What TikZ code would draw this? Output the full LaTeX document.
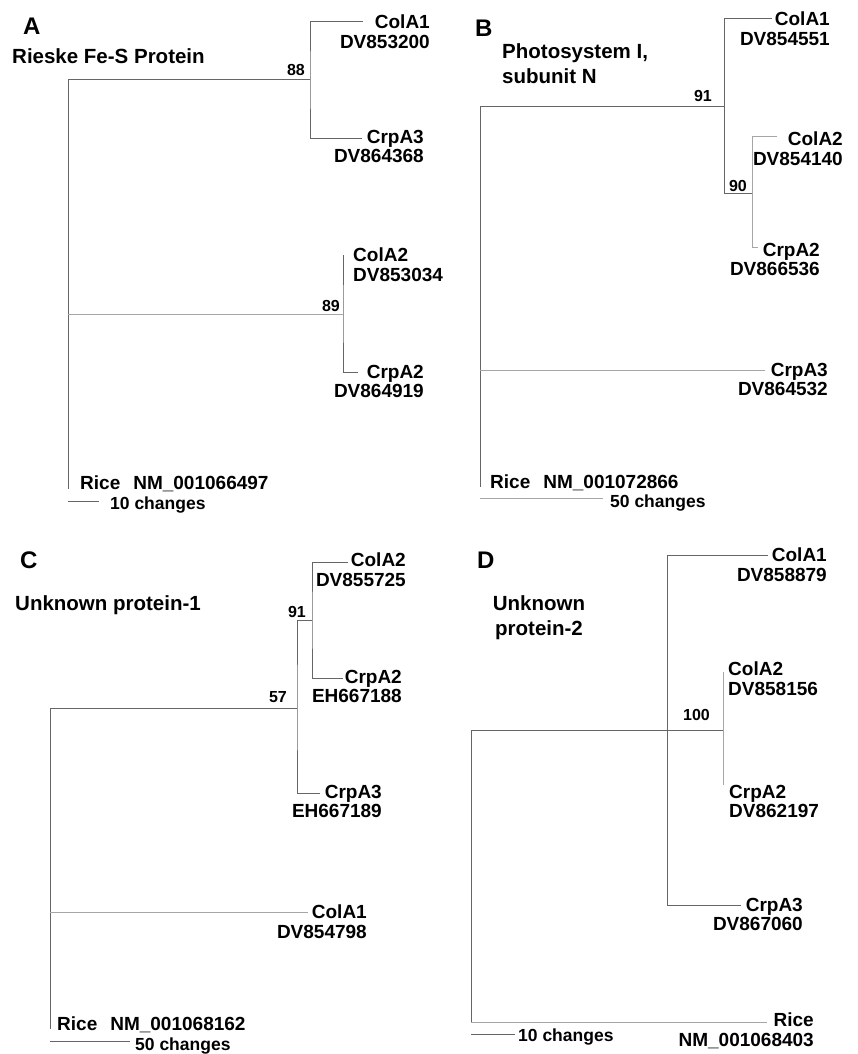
\documentclass[tikz,border=0pt]{standalone}
\usepackage{fontspec}
\setmainfont{Liberation Sans}

\begin{document}
\begin{tikzpicture}[x=1pt,y=-1pt]

\tikzset{
    branch/.style={
        draw=black!60,
        line width=1pt,
    },
    faint/.style={
        draw=black!35,
        line width=1pt,
    },
    leaf/.style={
        font=\fontsize{19}{19.5}\selectfont\bfseries,
        inner sep=0pt,
        align=right,
        anchor=north east,
    },
    leaf left/.style={
        leaf,
        align=left,
        anchor=north west,
    },
    boot/.style={
        font=\fontsize{16}{16}\selectfont\bfseries,
        inner sep=0pt,
        anchor=base east,
    },
    panel/.style={
        font=\fontsize{24}{24}\selectfont\bfseries,
        inner sep=0pt,
        anchor=north west,
    },
    title/.style={
        font=\fontsize{20.5}{25}\selectfont\bfseries,
        inner sep=0pt,
        anchor=north west,
        align=left,
    },
    scalelbl/.style={
        font=\fontsize{17.5}{17.5}\selectfont\bfseries,
        inner sep=0pt,
        anchor=base west,
    }
}

\useasboundingbox (0,0) rectangle (858,1054);

% ---- A
\node(A) [panel] at (23,18) {A};
\node(titleA) [title] at (12,48) {Rieske Fe-S Protein};

\coordinate (a0) at (68,80);
\coordinate (a1) at (310,80);
\coordinate (a2) at (343,314);
\coordinate (colA1A) at (363,22);
\coordinate (crpA3A) at (362,138);
\coordinate (colA2A) at (343,255);
\coordinate (crpA2A) at (358,372);
\coordinate (riceA) at (68,489);

\draw[branch] (a1) -- (a0) -- (riceA);
\draw[faint] (a0 |- a2) -- (a2);
\draw[branch] (colA1A) -| (a1) |- (crpA3A);
\draw[branch] (colA2A) -- (a2) |- (crpA2A);

\node[boot] at (305,76) {88};
\node[boot] at (340,311) {89};

\node(lColA1A) [leaf] at (430,15) {ColA1\\DV853200};
\node(lCrpA3A) [leaf] at (424,130) {CrpA3\\DV864368};
\node(lColA2A) [leaf left] at (353,248) {ColA2\\DV853034};
\node(lCrpA2A) [leaf] at (424,365) {CrpA2\\DV864919};
\node(lRiceA) [scalelbl,font=\fontsize{19}{19}\selectfont\bfseries] at (80,489) {Rice\hspace{13pt}NM\_001066497};

\draw[branch] (68,501) -- (99,501);
\node[scalelbl] at (110,509) {10 changes};

% ---- B
\node(B) [panel] at (475,20) {B};
\node(titleB) [title] at (502,43) {Photosystem I,\\subunit N};

\coordinate (b0) at (480,107);
\coordinate (b1) at (724,107);
\coordinate (b2) at (752,193);
\coordinate (colA1B) at (772,19);
\coordinate (colA2B) at (777,136);
\coordinate (crpA2B) at (758,247);
\coordinate (crpA3B) at (765,370);
\coordinate (riceB) at (480,487);

\draw[branch] (b1) -- (b0) -- (riceB);
\draw[faint] (b0 |- crpA3B) -- (crpA3B);
\draw[branch] (colA1B) -| (b1) |- (b2);
\draw[faint] (colA2B) -| (b2) |- (crpA2B);

\node[boot] at (712,102) {91};
\node[boot] at (747,191) {90};

\node(lColA1B) [leaf] at (830,12) {ColA1\\DV854551};
\node(lColA2B) [leaf] at (843,132) {ColA2\\DV854140};
\node(lCrpA2B) [leaf] at (820,243) {CrpA2\\DV866536};
\node(lCrpA3B) [leaf] at (828,363) {CrpA3\\DV864532};
\node(lRiceB) [scalelbl,font=\fontsize{19}{19}\selectfont\bfseries] at (490,488) {Rice\hspace{13pt}NM\_001072866};

\draw[faint] (480,498) -- (603,498);
\node[scalelbl] at (610,507) {50 changes};

% ---- C
\node(C) [panel] at (20,552) {C};
\node(titleC) [title] at (15,595) {Unknown protein-1};

\coordinate (c0) at (50,708);
\coordinate (c1) at (297,708);
\coordinate (c2) at (312,620);
\coordinate (colA2C) at (348,562);
\coordinate (crpA2C) at (343,678);
\coordinate (crpA3C) at (320,793);
\coordinate (colA1C) at (308,912);
\coordinate (riceC) at (50,1029);

\draw[branch] (c1) -- (c0) -- (riceC);
\draw[faint] (c0 |- colA1C) -- (colA1C);
\draw[branch] (c2) -| (c1) |- (crpA3C);
\draw[branch] (colA2C) -| (c2) |- (crpA2C);

\node[boot] at (287,702) {57};
\node[boot] at (306,617) {91};

\node(lColA2C) [leaf] at (406,553) {ColA2\\DV855725};
\node(lCrpA2C) [leaf] at (402,670) {CrpA2\\EH667188};
\node(lCrpA3C) [leaf] at (382,785) {CrpA3\\EH667189};
\node(lColA1C) [leaf] at (367,905) {ColA1\\DV854798};
\node(lRiceC) [scalelbl,font=\fontsize{19}{19}\selectfont\bfseries] at (57,1030) {Rice\hspace{13pt}NM\_001068162};

\draw[branch] (50,1041) -- (130,1041);
\node[scalelbl] at (135,1050) {50 changes};

% ---- D
\node(D) [panel] at (477,552) {D};
\node(titleD) [title,align=center,anchor=north] at (539,595) {Unknown\\protein-2};

\coordinate (d0) at (471,730);
\coordinate (d1) at (667,730);
\coordinate (d2) at (723,730);
\coordinate (colA1D) at (768,555);
\coordinate (colA2D) at (723,672);
\coordinate (crpA2D) at (723,785);
\coordinate (crpA3D) at (741,905);
\coordinate (riceD) at (767,1022);

\draw[branch] (d2) -- (d0) -- (d0 |- riceD);
\draw[faint] (d0 |- riceD) -- (riceD);
\draw[branch] (colA1D) -| (d1) |- (crpA3D);
\draw[faint] (colA2D) -- (crpA2D);

\node[boot] at (710,720) {100};

\node(lColA1D) [leaf] at (827,548) {ColA1\\DV858879};
\node(lColA2D) [leaf left] at (728,662) {ColA2\\DV858156};
\node(lCrpA2D) [leaf left] at (729,785) {CrpA2\\DV862197};
\node(lCrpA3D) [leaf] at (803,898) {CrpA3\\DV867060};
\node(lRiceD) [leaf] at (814,1013) {Rice\\NM\_001068403};

\draw[branch] (471,1034) -- (515,1034);
\node[scalelbl] at (518,1041) {10 changes};

\end{tikzpicture}
\end{document}
